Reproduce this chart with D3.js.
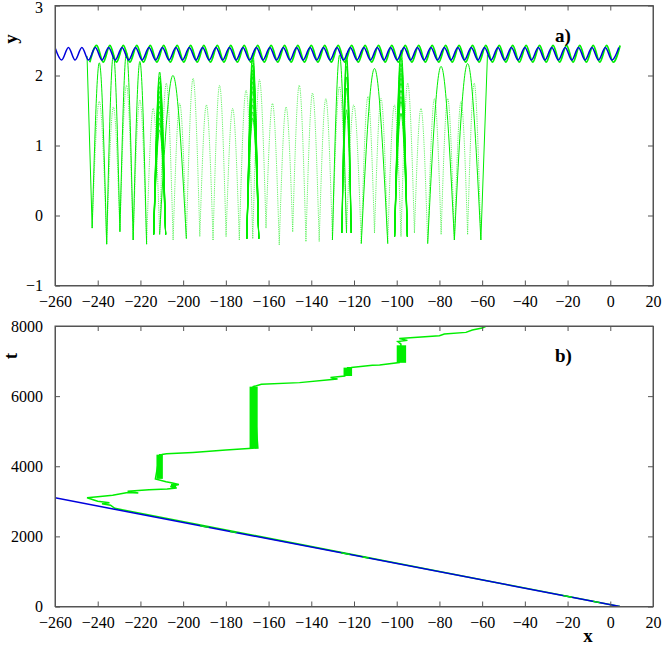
<!DOCTYPE html>
<html>
<head>
<meta charset="utf-8">
<script src="https://cdn.jsdelivr.net/npm/d3@7/dist/d3.min.js"></script>
<style>
  body { margin: 0; background: #fff; }
  svg text { font-family: "Liberation Serif", "Times New Roman", serif; }
</style>
</head>
<body>
<svg id="chart" width="664" height="646"></svg>
<script>
// ---- axis ticks ----
const xTicks = [-260, -240, -220, -200, -180, -160, -140, -120, -100, -80, -60, -40, -20, 0, 20];
const yTicks = [-1, 0, 1, 2, 3];
const tTicks = [0, 2000, 4000, 6000, 8000];

// ---- panel a: wave profile (extrema) ----
const waveX = [-260, -256.9, -253.7, -250.6, -247.4, -244.3, -241.1, -238.0, -234.9, -231.8, -228.6, -225.5,
  -222.3, -219.2, -216.0, -212.9, -209.7, -206.6, -203.4, -200.3, -197.1, -194.0, -190.9, -187.8, -184.6,
  -181.5, -178.3, -175.2, -172.0, -168.9, -165.7, -162.6, -159.4, -156.3, -153.1, -150.0, -146.9, -143.8,
  -140.6, -137.5, -134.3, -131.2, -128.0, -124.9, -121.7, -118.6, -115.4, -112.3, -109.1, -106.0, -102.9,
  -99.8, -96.6, -93.5, -90.3, -87.2, -84.0, -80.9, -77.7, -74.6, -71.4, -68.3, -65.1, -62.0, -58.9, -55.8,
  -52.6, -49.5, -46.3, -43.2, -40.0, -36.9, -33.7, -30.6, -27.4, -24.3, -21.1, -18.0, -14.9, -11.8, -8.6,
  -5.5, -2.3, 0.8, 4.0];
const waveBlueY = waveX.map((x, i) => (i % 2 === 0 ? 2.40 : 2.22));
const waveGreenY = waveX.map((x, i) => (i % 2 === 0 ? 2.43 : 2.19));
const greenWaveStart = -245;

// ---- panel a: particle arches ----
const cuspX = [-242.6, -235.8, -229.6, -223.4, -217.1, -211.0, -204.7, -198.5, -192.2, -186.0,
  -179.9, -173.7, -167.4, -161.2, -155.0, -148.7, -142.5, -136.3, -130.1, -123.5,
  -116.6, -110.4, -104.2, -98.0, -91.7, -85.5, -79.2, -73.0, -66.8, -60.6];
const cuspY = [-0.18, -0.41, -0.23, -0.35, -0.41, -0.27, -0.35, -0.33, -0.30, -0.35,
  -0.30, -0.35, -0.33, -0.18, -0.42, -0.23, -0.37, -0.37, -0.35, -0.25,
  -0.40, -0.25, -0.40, -0.30, -0.25, -0.40, -0.27, -0.35, -0.27, -0.35];
// [from cusp, to cusp, peak y] : fast hops (faint)
const hopArches = [[0, 1, 1.63], [1, 2, 1.55], [2, 3, 1.86], [3, 4, 1.65], [4, 5, 1.53], [5, 6, 1.89],
  [6, 7, 1.60], [7, 8, 1.96], [8, 9, 1.58], [9, 10, 1.86], [10, 11, 1.53], [11, 12, 1.79], [12, 13, 1.94],
  [13, 14, 1.60], [14, 15, 1.55], [15, 16, 1.86], [16, 17, 1.75], [17, 18, 1.67], [18, 19, 1.84],
  [19, 20, 1.58], [20, 21, 1.70], [21, 22, 1.67], [22, 23, 1.58], [23, 24, 1.89], [24, 25, 1.53],
  [25, 26, 1.67], [26, 27, 1.67], [27, 28, 1.63], [28, 29, 1.89]];
// slow, high hops (bright)
const highArches = [[0, 1, 2.18], [1, 2, 2.30], [2, 3, 2.33], [3, 4, 2.20], [5, 7, 2.00], [18, 19, 2.29],
  [20, 22, 2.10], [25, 27, 2.13], [27, 29, 2.17]];
// legs joining the wave: [cusp, x on wave, y on wave]
const waveLegs = [[0, -245.0, 2.28], [29, -57.5, 2.30]];
// trapped bounces
const clusterCusp = [5, 12, 19, 23];
const clusterHalf = [2.8, 2.8, 2.2, 3.0];
const clusterPeaks = [
  [2.05, 1.98, 1.91, 1.84, 1.77, 1.70, 1.63, 1.56, 1.48, 1.39, 1.32, 1.22],
  [2.32, 2.22, 2.15, 2.08, 2.03, 1.98, 1.91, 1.84, 1.77, 1.67, 1.58, 1.48, 1.39],
  [2.32, 2.22, 2.13, 1.98, 1.82, 1.51],
  [2.36, 2.25, 2.17, 2.10, 2.03, 1.96, 1.89, 1.79, 1.70, 1.63, 1.46]
];

// ---- panel b: trajectories ----
const waveLineX = [-260, 4.5];
const waveLineT = [3100, 0];
const pathX = [4.5, -232.0, -234.0, -238.0, -234.5, -240.0, -245.0, -240.0, -233.0, -226.0, -221.0, -226.0,
  -216.0, -207.5, -203.0, -206.0, -202.0, -205.0, -208.0, -213.0, -211.0, -210.0, -207.8, -195.4, -180.0,
  -165.0, -167.2, -163.4, -145.5, -131.5, -127.7, -131.0, -124.3, -123.0, -121.3, -111.4, -108.0, -98.8,
  -98.0, -99.5, -95.0, -98.8, -80.0, -77.7, -67.6, -64.6, -60.0, -58.2];
const pathT = [0, 2800, 2890, 2930, 2960, 3000, 3100, 3130, 3170, 3250, 3235, 3290,
  3330, 3350, 3380, 3420, 3480, 3520, 3560, 3640, 4330, 4335, 4358, 4395, 4460,
  4521, 6270, 6336, 6385, 6470, 6490, 6528, 6574, 6813, 6815, 6880, 6890, 6958,
  7485, 7560, 7590, 7646, 7721, 7770, 7818, 7884, 7940, 7990];
const bundleX = [-211.0, -204.5, -167.0, -122.9, -97.8];
const bundleT0 = [3640, 3400, 4520, 6574, 6950];
const bundleT1 = [4330, 3500, 6270, 6813, 7450];
const bundleHalf = [1.5, 1.2, 1.9, 2.0, 2.2];
// short stretches where the riding particle shows beside the wave line
const glintX0 = [-192, -178, -126, -116, -22, -8];
const glintX1 = [-188, -175, -122, -113, -18, -5];
const glintT0 = [2303, 2139, 1530, 1412, 311, 147];
const glintT1 = [2256, 2104, 1483, 1377, 264, 111];

// ---- layout ----
const left = 55, right = 653;
const panelA = { top: 5.5, bottom: 285.5 };
const panelB = { top: 326, bottom: 606.5 };
const GREEN = '#00ee00', BLUE = '#0000dd', AXIS = '#555';

const svg = d3.select('#chart');

const xScale = d3.scaleLinear().domain([-260, 20]).range([left, right]);
const yScale = d3.scaleLinear().domain([-1, 3]).range([panelA.bottom, panelA.top]);
const tScale = d3.scaleLinear().domain([0, 8000]).range([panelB.bottom, panelB.top]);

function frame(g, yS, ticks, top, bottom, fmt) {
  g.append('g').attr('transform', `translate(0,${bottom})`)
    .call(d3.axisBottom(xScale).tickValues(xTicks).tickSize(-5).tickPadding(10).tickSizeOuter(0));
  g.append('g').attr('transform', `translate(0,${top})`)
    .call(d3.axisTop(xScale).tickValues(xTicks).tickSize(-5).tickFormat('').tickSizeOuter(0));
  g.append('g').attr('class', 'yleft').attr('transform', `translate(${left},0)`)
    .call(d3.axisLeft(yS).tickValues(ticks).tickSize(-5).tickPadding(12).tickSizeOuter(0).tickFormat(fmt));
  g.append('g').attr('transform', `translate(${right},0)`)
    .call(d3.axisRight(yS).tickValues(ticks).tickSize(-5).tickFormat('').tickSizeOuter(0));
  g.selectAll('.domain, .tick line').attr('stroke', AXIS);
  g.selectAll('.tick text').attr('font-size', 16).attr('fill', '#000')
    .style('font-family', '"Liberation Serif", serif');
  g.append('rect').attr('x', left).attr('y', top).attr('width', right - left).attr('height', bottom - top)
    .attr('fill', 'none').attr('stroke', AXIS).attr('stroke-width', 1);
}

svg.append('defs').call(d => {
  d.append('clipPath').attr('id', 'clipA').append('rect')
    .attr('x', left).attr('y', panelA.top).attr('width', right - left).attr('height', panelA.bottom - panelA.top);
  d.append('clipPath').attr('id', 'clipB').append('rect')
    .attr('x', left).attr('y', panelB.top).attr('width', right - left).attr('height', panelB.bottom - panelB.top);
});

// ================= panel a =================
const gA = svg.append('g');
const plotA = gA.append('g').attr('clip-path', 'url(#clipA)');

const arch = d3.line().x(d => xScale(d[0])).y(d => yScale(d[1])).curve(d3.curveNatural);
const archPts = (a) => {
  const x0 = cuspX[a[0]], x1 = cuspX[a[1]];
  return [[x0, cuspY[a[0]]], [(x0 + x1) / 2, a[2]], [x1, cuspY[a[1]]]];
};

plotA.selectAll('.hop').data(hopArches).enter().append('path')
  .attr('class', 'hop')
  .attr('d', d => arch(archPts(d)))
  .attr('fill', 'none').attr('stroke', '#33ee33').attr('stroke-width', 1)
  .attr('stroke-dasharray', '1.2,1').attr('opacity', 0.75);

clusterCusp.forEach((c, k) => {
  plotA.selectAll(`.cl${k}`).data(clusterPeaks[k]).enter().append('path')
    .attr('d', p => arch([[cuspX[c] - clusterHalf[k], cuspY[c]], [cuspX[c], p], [cuspX[c] + clusterHalf[k], cuspY[c]]]))
    .attr('fill', 'none').attr('stroke', GREEN).attr('stroke-width', 1);
});

plotA.selectAll('.high').data(highArches).enter().append('path')
  .attr('d', d => arch(archPts(d)))
  .attr('fill', 'none').attr('stroke', GREEN).attr('stroke-width', 1);

plotA.selectAll('.leg').data(waveLegs).enter().append('path')
  .attr('d', d => arch([[cuspX[d[0]], cuspY[d[0]]], [d[1], d[2]]]))
  .attr('fill', 'none').attr('stroke', GREEN).attr('stroke-width', 1);

const wave = d3.line().x(d => xScale(d[0])).y(d => yScale(d[1])).curve(d3.curveMonotoneX);
const greenWave = waveX.map((x, i) => [x + 0.6, waveGreenY[i]]).filter(d => d[0] >= greenWaveStart);
plotA.append('path').attr('d', wave(greenWave))
  .attr('fill', 'none').attr('stroke', GREEN).attr('stroke-width', 1.8);
plotA.append('path').attr('d', wave(waveX.map((x, i) => [x, waveBlueY[i]])))
  .attr('fill', 'none').attr('stroke', BLUE).attr('stroke-width', 1.5);

frame(gA, yScale, yTicks, panelA.top, panelA.bottom, d3.format('d'));
// top label sits against the page edge
gA.selectAll('.yleft .tick text').filter(d => d === 3).attr('dy', '0.45em');

// ================= panel b =================
const gB = svg.append('g');
const plotB = gB.append('g').attr('clip-path', 'url(#clipB)');

plotB.selectAll('.bundle').data(bundleX).enter().append('rect')
  .attr('x', (d, i) => xScale(d - bundleHalf[i]))
  .attr('width', (d, i) => xScale(d + bundleHalf[i]) - xScale(d - bundleHalf[i]))
  .attr('y', (d, i) => tScale(bundleT1[i]))
  .attr('height', (d, i) => tScale(bundleT0[i]) - tScale(bundleT1[i]))
  .attr('fill', GREEN);

const traj = d3.line().x(d => xScale(d[0])).y(d => tScale(d[1]));
plotB.append('path').attr('d', traj(pathX.map((x, i) => [x, pathT[i]])))
  .attr('fill', 'none').attr('stroke', GREEN).attr('stroke-width', 1.5);
plotB.append('path').attr('d', traj(waveLineX.map((x, i) => [x, waveLineT[i]])))
  .attr('fill', 'none').attr('stroke', BLUE).attr('stroke-width', 1.5);
plotB.selectAll('.glint').data(glintX0).enter().append('line')
  .attr('x1', d => xScale(d)).attr('x2', (d, i) => xScale(glintX1[i]))
  .attr('y1', (d, i) => tScale(glintT0[i])).attr('y2', (d, i) => tScale(glintT1[i]))
  .attr('stroke', GREEN).attr('stroke-width', 1.3);

frame(gB, tScale, tTicks, panelB.top, panelB.bottom, d3.format('d'));

// ---- labels ----
const bold = (sel) => sel.attr('font-weight', 'bold').attr('font-size', 19).attr('fill', '#000');
svg.append('text').attr('transform', 'translate(17,39) rotate(-90)').attr('text-anchor', 'middle').text('y').call(bold);
svg.append('text').attr('transform', 'translate(17,356) rotate(-90)').attr('text-anchor', 'middle').text('t').call(bold);
svg.append('text').attr('x', 588).attr('y', 642).attr('text-anchor', 'middle').text('x').call(bold);
svg.append('text').attr('x', 555).attr('y', 42).text('a)').call(bold);
svg.append('text').attr('x', 555).attr('y', 362).text('b)').call(bold);
</script>
</body>
</html>
